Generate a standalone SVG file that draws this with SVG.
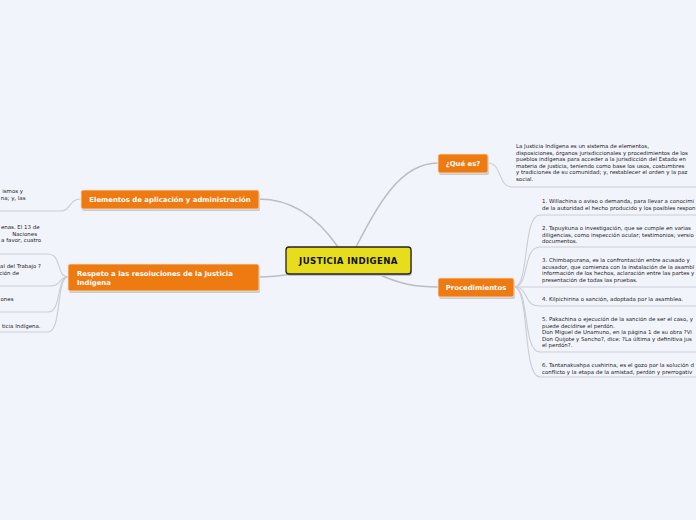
<svg xmlns="http://www.w3.org/2000/svg" width="696" height="520" viewBox="0 0 696 520">
<style>
.bg{fill:#f2f4fc}
.main{stroke:#bcbcc2;stroke-width:1.5;fill:none}
.sub{stroke:#cbccd4;stroke-width:1.1;fill:none}
.onode{fill:#ee7a12;stroke:#fbe3cc;stroke-width:0.8}
.shadow{fill:#c9cad2}
.ot{font-family:"DejaVu Sans",Verdana,sans-serif;font-size:6.9px;font-weight:bold;fill:#ffffff}
.ct{font-family:"DejaVu Sans",Verdana,sans-serif;font-size:8.6px;font-weight:bold;fill:#111111;letter-spacing:0.4px}
.t{font-family:"DejaVu Sans",Verdana,sans-serif;font-size:5.45px;fill:#222222}
.te{font-family:"DejaVu Sans",Verdana,sans-serif;font-size:5.45px;fill:#222222;text-anchor:end}
</style>
<rect class="bg" x="0" y="0" width="696" height="520"/>
<g id="connectors">
<path class="main" d="M356,247 C378,205 400,163 438,163"/>
<path class="main" d="M338,247 C318,218 292,199 259,199"/>
<path class="main" d="M378,274 C400,284 415,287 438,287"/>
<path class="main" d="M292,274 C280,276 270,277 259,277"/>
<path class="sub" d="M488,163 C502,163 498,187 512,187 L696,187"/>
<path class="sub" d="M514,287 C530,287 522,215 540,215 L696,215"/>
<path class="sub" d="M514,287 C530,287 522,247 540,247 L696,247"/>
<path class="sub" d="M514,287 L696,287"/>
<path class="sub" d="M514,287 C530,287 522,306 540,306 L696,306"/>
<path class="sub" d="M514,287 C530,287 522,352 540,352 L696,352"/>
<path class="sub" d="M514,287 C530,287 522,377 540,377 L696,377"/>
<path class="sub" d="M81,199 C68,199 72,211 60,211 L0,211"/>
<path class="sub" d="M68,277 C56,277 62,254 48,254 L0,254"/>
<path class="sub" d="M68,277 C58,277 62,286 50,286 L0,286"/>
<path class="sub" d="M68,277 C56,277 62,312 48,312 L0,312"/>
<path class="sub" d="M68,277 C56,277 62,332 48,332 L0,332"/>
</g>
<g id="central">
<rect x="287" y="249" width="125" height="27" rx="3" fill="#c2c2c8"/>
<rect x="286" y="247" width="125" height="27" rx="3" fill="#e7dd1d" stroke="#222222" stroke-width="1.3"/>
<text class="ct" x="348.5" y="263.5" text-anchor="middle">JUSTICIA INDIGENA</text>
</g>
<g id="que-es">
<rect class="shadow" x="439" y="156" width="50" height="19" rx="2"/>
<rect class="onode" x="438" y="154" width="50" height="19" rx="2"/>
<text class="ot" x="463" y="166" text-anchor="middle">¿Qué es?</text>
</g>
<g id="que-es-text">
<text class="t" x="516" y="148">La Justicia Indígena es un sistema de elementos,</text>
<text class="t" x="516" y="154.5">disposiciones, órganos jurisdiccionales y procedimientos de los</text>
<text class="t" x="516" y="161">pueblos indígenas para acceder a la jurisdicción del Estado en</text>
<text class="t" x="516" y="167.5">materia de justicia, teniendo como base los usos, costumbres</text>
<text class="t" x="516" y="174">y tradiciones de su comunidad; y, restablecer el orden y la paz</text>
<text class="t" x="516" y="180.5">social.</text>
</g>
<g id="procedimientos">
<rect class="shadow" x="439" y="280" width="76" height="19" rx="2"/>
<rect class="onode" x="438" y="278" width="76" height="19" rx="2"/>
<text class="ot" x="476" y="290" text-anchor="middle">Procedimientos</text>
</g>
<g id="proc-1">
<text class="t" x="542" y="203">1. Willachina o aviso o demanda, para llevar a conocimi</text>
<text class="t" x="542" y="209.5">de la autoridad el hecho producido y los posibles respon</text>
</g>
<g id="proc-2">
<text class="t" x="542" y="230">2. Tapuykuna o investigación, que se cumple en varias</text>
<text class="t" x="542" y="236.5">diligencias, como inspección ocular; testimonios; versio</text>
<text class="t" x="542" y="243">documentos.</text>
</g>
<g id="proc-3">
<text class="t" x="542" y="262">3. Chimbapurana, es la confrontación entre acusado y</text>
<text class="t" x="542" y="268.5">acusador, que comienza con la instalación de la asambl</text>
<text class="t" x="542" y="275">información de los hechos, aclaración entre las partes y</text>
<text class="t" x="542" y="281.5">presentación de todas las pruebas.</text>
</g>
<g id="proc-4">
<text class="t" x="542" y="301">4. Kilpichirina o sanción, adoptada por la asamblea.</text>
</g>
<g id="proc-5">
<text class="t" x="542" y="321">5. Pakachina o ejecución de la sanción de ser el caso, y</text>
<text class="t" x="542" y="327.5">puede decidirse el perdón.</text>
<text class="t" x="542" y="334">Don Miguel de Unamuno, en la página 1 de su obra ?Vi</text>
<text class="t" x="542" y="340.5">Don Quijote y Sancho?, dice: ?La última y definitiva jus</text>
<text class="t" x="542" y="347">el perdón?.</text>
</g>
<g id="proc-6">
<text class="t" x="542" y="367">6. Tantanakushpa cushirina, es el gozo por la solución d</text>
<text class="t" x="542" y="373.5">conflicto y la etapa de la amistad, perdón y prerrogativ</text>
</g>
<g id="elementos">
<rect class="shadow" x="82" y="192" width="178" height="19" rx="2"/>
<rect class="onode" x="81" y="190" width="178" height="19" rx="2"/>
<text class="ot" x="170" y="202" text-anchor="middle">Elementos de aplicación y administración</text>
</g>
<g id="elementos-text">
<text class="te" x="23" y="193">ismos y</text>
<text class="te" x="25.5" y="200">na; y, las</text>
</g>
<g id="respeto">
<rect class="shadow" x="69" y="266" width="191" height="27" rx="2"/>
<rect class="onode" x="68" y="264" width="191" height="27" rx="2"/>
<text class="ot" x="77" y="275.5">Respeto a las resoluciones de la Justicia</text>
<text class="ot" x="77" y="284.5">Indígena</text>
</g>
<g id="respeto-1">
<text class="te" x="39.5" y="229">enas. El 13 de</text>
<text class="te" x="37" y="235.5">Naciones</text>
<text class="te" x="41" y="242">a favor, cuatro</text>
</g>
<g id="respeto-2">
<text class="te" x="41" y="268">al del Trabajo ?</text>
<text class="te" x="19" y="274.5">ción de</text>
</g>
<g id="respeto-3">
<text class="te" x="13.5" y="300.5">ones</text>
</g>
<g id="respeto-4">
<text class="te" x="40.5" y="327.5">ticia Indígena.</text>
</g>
</svg>
